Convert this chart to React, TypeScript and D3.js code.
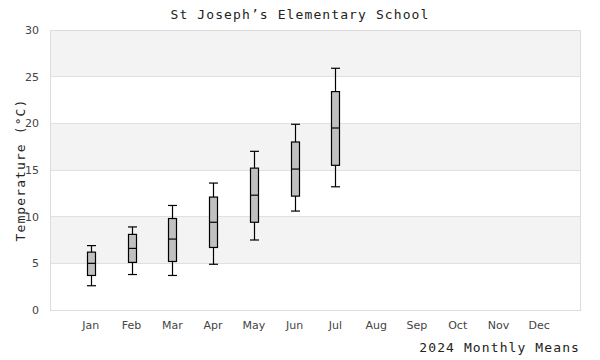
import React from "react";
import * as d3 from "d3";

const months = ["Jan","Feb","Mar","Apr","May","Jun","Jul","Aug","Sep","Oct","Nov","Dec"];
const lowValues = [2.6, 3.8, 3.7, 4.9, 7.5, 10.6, 13.2];
const q1Values = [3.7, 5.1, 5.2, 6.7, 9.4, 12.2, 15.5];
const medianValues = [5.0, 6.6, 7.6, 9.4, 12.3, 15.1, 19.5];
const q3Values = [6.2, 8.1, 9.8, 12.1, 15.2, 18.0, 23.4];
const highValues = [6.9, 8.9, 11.2, 13.6, 17.0, 19.9, 25.9];
const yTicks = [0, 5, 10, 15, 20, 25, 30];

const W = 600, H = 360;
const L = 50, R = 580, T = 30, B = 310;
const mono = "'DejaVu Sans Mono', monospace";
const sans = "'DejaVu Sans', sans-serif";

export default function App() {
  const x = d3.scaleLinear().domain([0, 13]).range([L, R]);
  const y = d3.scaleLinear().domain([0, 30]).range([B, T]);
  const bw = 8;
  const bands = d3.range(0, 30, 5);
  return (
    <svg width={W} height={H} style={{ position: "absolute", left: 0, top: 0 }}>
      <rect x={0} y={0} width={W} height={H} fill="#fff" />
      {bands.map((b, i) => (
        <rect key={"b" + b} x={L} y={y(b + 5)} width={R - L} height={y(b) - y(b + 5)}
          fill={i % 2 === 1 ? "#f3f3f3" : "#fff"} />
      ))}
      {yTicks.map(t => (
        <line key={"g" + t} x1={L} x2={R} y1={y(t)} y2={y(t)} stroke="#e0e0e0" strokeWidth={1} shapeRendering="crispEdges" />
      ))}
      <rect x={L} y={T} width={R - L} height={B - T} fill="none" stroke="#dcdcdc" strokeWidth={1} shapeRendering="crispEdges" />
      {yTicks.map(t => (
        <text key={"yt" + t} x={39} y={y(t) + 4} textAnchor="end" fontFamily={sans} fontSize={11} fill="#444">{t}</text>
      ))}
      {months.map((m, i) => (
        <text key={"xt" + m} x={x(i + 1)} y={329} textAnchor="middle" fontFamily={sans} fontSize={11} fill="#444">{m}</text>
      ))}
      {medianValues.map((med, i) => {
        const cx = Math.round(x(i + 1)) + 0.5;
        return (
          <g key={"box" + i} stroke="#000" strokeWidth={1.2}>
            <line x1={cx} x2={cx} y1={y(highValues[i])} y2={y(q3Values[i])} />
            <line x1={cx} x2={cx} y1={y(q1Values[i])} y2={y(lowValues[i])} />
            <line x1={cx - bw / 2 - 0.5} x2={cx + bw / 2 + 0.5} y1={y(highValues[i])} y2={y(highValues[i])} />
            <line x1={cx - bw / 2 - 0.5} x2={cx + bw / 2 + 0.5} y1={y(lowValues[i])} y2={y(lowValues[i])} />
            <rect x={cx - bw / 2} y={y(q3Values[i])} width={bw} height={y(q1Values[i]) - y(q3Values[i])} fill="#c0c0c0" />
            <line x1={cx - bw / 2} x2={cx + bw / 2} y1={y(med)} y2={y(med)} />
          </g>
        );
      })}
      <text x={300} y={19} textAnchor="middle" fontFamily={mono} fontSize={13} letterSpacing={1.1} fill="#222">St Joseph’s Elementary School</text>
      <text transform={`translate(24.5,${(T + B) / 2}) rotate(-90)`} textAnchor="middle" fontFamily={mono} fontSize={13} letterSpacing={1.1} fill="#222">Temperature (°C)</text>
      <text x={580} y={352} textAnchor="end" fontFamily={mono} fontSize={13} letterSpacing={1.1} fill="#222">2024 Monthly Means</text>
    </svg>
  );
}
